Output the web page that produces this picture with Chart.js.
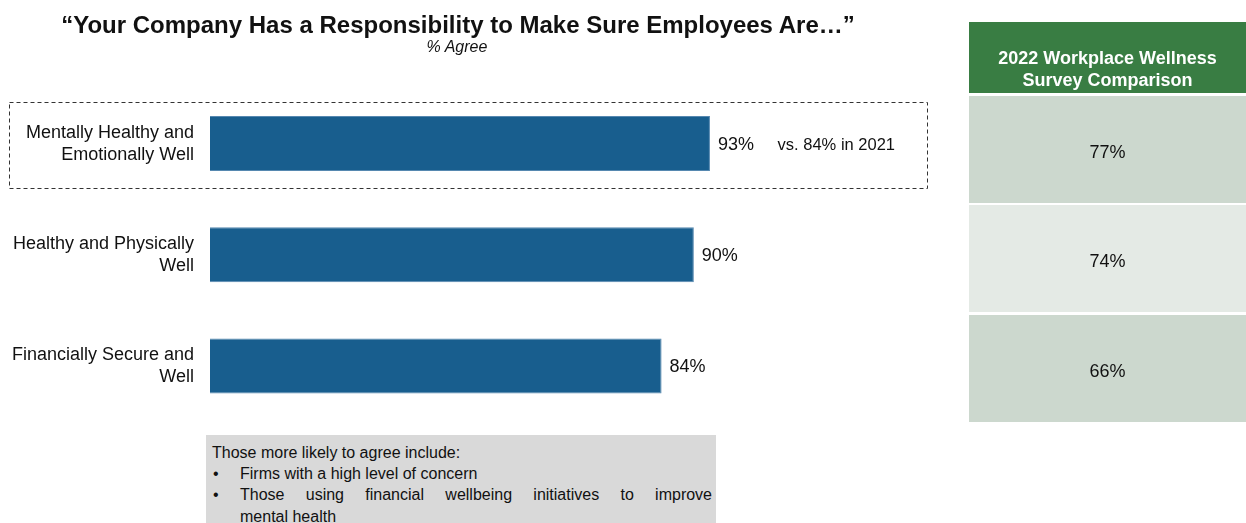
<!DOCTYPE html>
<html>
<head>
<meta charset="utf-8">
<script src="https://cdn.jsdelivr.net/npm/chart.js@4.4.0/dist/chart.umd.min.js"></script>
<style>
  body { margin: 0; background: #fff; font-family: "Liberation Sans", Arial, sans-serif; color: #111; }
  #page { position: relative; width: 1246px; height: 523px; overflow: hidden; }
  #chart { position: absolute; left: 0; top: 0; }
  .title { position: absolute; left: 0; top: 11px; width: 916px; text-align: center; font-weight: bold; font-size: 24px; }
  .subtitle { position: absolute; left: 0; top: 38px; width: 914px; text-align: center; font-style: italic; font-size: 16px; }
  .compare { position: absolute; left: 969px; top: 22px; width: 277px; }
  .compare .head { height: 71px; background: #397D43; color: #fff; font-weight: bold; font-size: 18px; line-height: 22px;
                   display: flex; align-items: flex-end; justify-content: center; text-align: center; padding-bottom: 2px; box-sizing: border-box; }
  .compare .cell { height: 107px; margin-top: 2.5px; display: flex; align-items: center; justify-content: center; font-size: 18px;
                   padding-top: 6px; box-sizing: border-box; }
  .note { position: absolute; left: 206px; top: 435px; width: 510px; height: 90px; background: #D9D9D9;
          box-sizing: border-box; padding: 7px 4px 0 6px; font-size: 16px; line-height: 21.2px; }
  .note .item { position: relative; padding-left: 28px; }
  .note .item::before { content: "\2022"; position: absolute; left: 1px; }
  .justify { text-align: justify; text-align-last: justify; }
</style>
</head>
<body>
<div id="page">
  <canvas id="chart" width="1246" height="523"></canvas>
  <div class="title">“Your Company Has a Responsibility to Make Sure Employees Are…”</div>
  <div class="subtitle">% Agree</div>
  <div class="compare" id="compare"></div>
  <div class="note">
    <div>Those more likely to agree include:</div>
    <div class="item">Firms with a high level of concern</div>
    <div class="item"><div class="justify">Those using financial wellbeing initiatives to improve</div><div>mental health</div></div>
  </div>
</div>
<script>
// responsibilities, % agree
const categories = [
  ['Mentally Healthy and', 'Emotionally Well'],
  ['Healthy and Physically', 'Well'],
  ['Financially Secure and', 'Well']
];
const agree2023 = [93, 90, 84];
const comparison2022 = [77, 74, 66];
const comparisonTitle = ['2022 Workplace Wellness', 'Survey Comparison'];
const highlightNote = 'vs. 84% in 2021';

// comparison panel on the right
const panel = document.getElementById('compare');
const head = document.createElement('div');
head.className = 'head';
head.innerHTML = comparisonTitle.join('<br>');
panel.appendChild(head);
const shades = ['#CCD8CE', '#E4EAE5', '#CCD8CE'];
comparison2022.forEach((v, i) => {
  const cell = document.createElement('div');
  cell.className = 'cell';
  cell.style.background = shades[i];
  cell.textContent = v + '%';
  panel.appendChild(cell);
});

const FONT = '"Liberation Sans", Arial, sans-serif';

// value labels plus dashed box round the first bar
const barLabels = {
  id: 'barLabels',
  afterDatasetsDraw(chart) {
    const ctx = chart.ctx;
    const bars = chart.getDatasetMeta(0).data;
    ctx.save();
    ctx.fillStyle = '#111';
    ctx.textBaseline = 'middle';
    ctx.font = '18px ' + FONT;
    bars.forEach((bar, i) => {
      ctx.fillText(agree2023[i] + '%', bar.x + 8, bar.y + 1);
    });
    const first = bars[0];
    ctx.font = '16.5px ' + FONT;
    ctx.fillText(highlightNote, chart.chartArea.right + 30, first.y + 2);

    ctx.strokeStyle = '#333';
    ctx.lineWidth = 1;
    ctx.setLineDash([4, 3]);
    ctx.strokeRect(9.5, Math.round(first.y - 42) + 0.5, 918, 86);
    ctx.restore();
  }
};

new Chart(document.getElementById('chart'), {
  type: 'bar',
  data: {
    labels: categories,
    datasets: [{
      data: agree2023,
      backgroundColor: '#185E8E',
      borderColor: '#5688B0',
      borderWidth: 1,
      categoryPercentage: 1,
      barPercentage: 0.495
    }]
  },
  options: {
    indexAxis: 'y',
    responsive: false,
    animation: false,
    layout: { padding: { left: 0, right: 498.4, top: 88, bottom: 101.4 } },
    plugins: { legend: { display: false }, tooltip: { enabled: false } },
    scales: {
      x: { display: false, min: 0, max: 100 },
      y: {
        afterFit(scale) { scale.width = 210; },
        grid: { display: false, drawTicks: false },
        border: { display: false },
        ticks: { color: '#111', padding: 16, font: { family: FONT, size: 18, lineHeight: 1.22 } }
      }
    }
  },
  plugins: [barLabels]
});
</script>
</body>
</html>
